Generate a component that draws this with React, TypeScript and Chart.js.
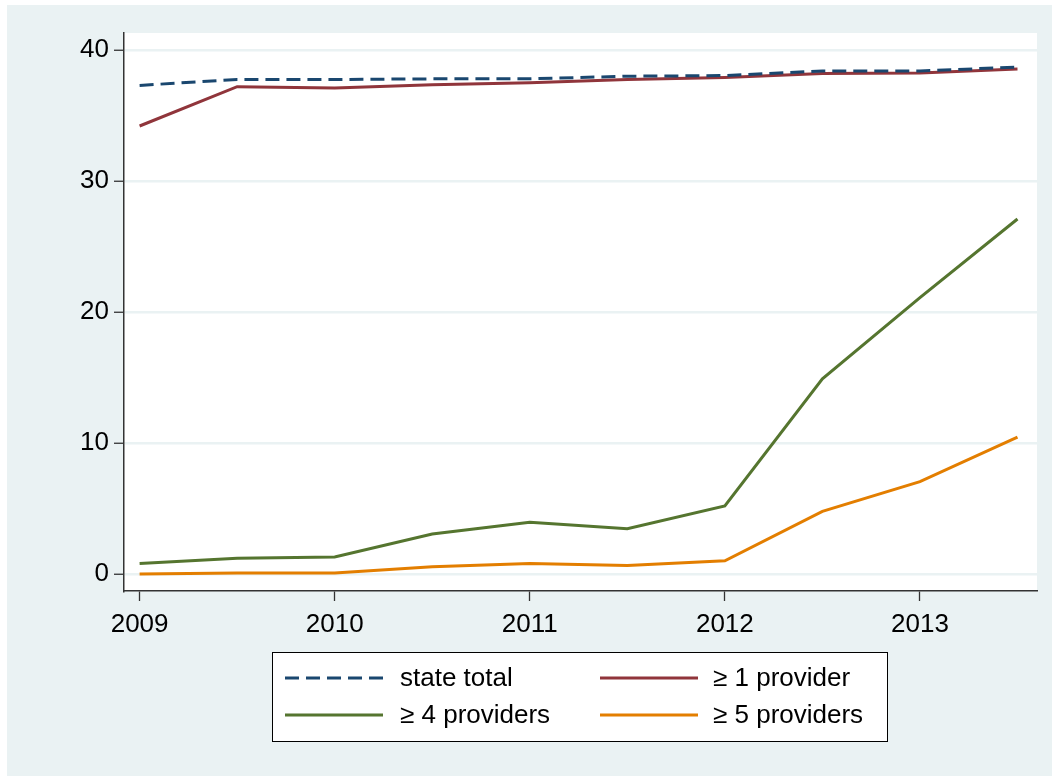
import React, { useEffect, useRef } from "react";
import { Chart, registerables } from "chart.js";

Chart.register(...registerables);

const periods = [2009, 2009.5, 2010, 2010.5, 2011, 2011.5, 2012, 2012.5, 2013, 2013.5];
const stateTotal = [37.3, 37.75, 37.75, 37.8, 37.8, 38.0, 38.05, 38.4, 38.4, 38.7];
const oneProvider = [34.2, 37.2, 37.1, 37.35, 37.5, 37.75, 37.9, 38.2, 38.25, 38.55];
const fourProviders = [0.8, 1.2, 1.3, 3.05, 3.95, 3.45, 5.2, 14.9, 21.1, 27.1];
const fiveProviders = [0.0, 0.08, 0.08, 0.55, 0.8, 0.65, 1.0, 4.78, 7.05, 10.45];
const xTicks = [2009, 2010, 2011, 2012, 2013];
const yTicks = [0, 10, 20, 30, 40];
const seriesLabels = ["state total", "\u2265 1 provider", "\u2265 4 providers", "\u2265 5 providers"];
const seriesColors = ["#1A476F", "#90353B", "#55752F", "#E37E00"];

const FONT = "'Liberation Sans', Arial, sans-serif";
const FONT_SIZE = 26;
const BG = "#EAF2F3";

const legendPlugin = {
  id: "boxLegend",
  afterDraw(chart: any) {
    const ctx = chart.ctx;
    ctx.save();
    const bx = 265, by = 647, bw = 615, bh = 89;
    ctx.fillStyle = "#FFFFFF";
    ctx.fillRect(bx, by, bw, bh);
    ctx.strokeStyle = "#000000";
    ctx.lineWidth = 1;
    ctx.strokeRect(bx + 0.5, by + 0.5, bw, bh);
    const cols = [
      { lx: 278, tx: 393 },
      { lx: 593, tx: 706 },
    ];
    const rows = [673, 710];
    chart.data.datasets.forEach((ds: any, i: number) => {
      const c = cols[i % 2];
      const y = rows[Math.floor(i / 2)];
      ctx.beginPath();
      ctx.strokeStyle = ds.borderColor;
      ctx.lineWidth = 3;
      ctx.setLineDash(ds.borderDash || []);
      ctx.moveTo(c.lx, y);
      ctx.lineTo(c.lx + 98, y);
      ctx.stroke();
      ctx.setLineDash([]);
      ctx.fillStyle = "#000000";
      ctx.font = `${FONT_SIZE}px ${FONT}`;
      ctx.textBaseline = "middle";
      ctx.textAlign = "left";
      ctx.fillText(ds.label, c.tx, y + 1);
    });
    ctx.restore();
  },
};

export default function App() {
  const ref = useRef<HTMLCanvasElement | null>(null);
  useEffect(() => {
    if (!ref.current) return;
    const mk = (vals: number[]) => periods.map((p, i) => ({ x: p, y: vals[i] }));
    const chart = new Chart(ref.current, {
      type: "line",
      data: {
        datasets: [stateTotal, oneProvider, fourProviders, fiveProviders].map((vals, i) => ({
          label: seriesLabels[i],
          data: mk(vals),
          borderColor: seriesColors[i],
          backgroundColor: seriesColors[i],
          borderWidth: 3,
          borderDash: i === 0 ? [14, 7] : [],
          pointRadius: 0,
          tension: 0,
          fill: false,
        })),
      },
      options: {
        animation: false,
        responsive: false,
        layout: { padding: { left: 0, top: 28, right: 15, bottom: 125 } },
        plugins: { legend: { display: false }, tooltip: { enabled: false } },
        scales: {
          x: {
            type: "linear",
            min: 2008.92,
            max: 2013.6,
            afterBuildTicks: (s: any) => {
              s.ticks = xTicks.map((v) => ({ value: v }));
            },
            afterFit: (s: any) => {
              s.height = 60;
            },
            grid: { drawOnChartArea: false, tickLength: 10, tickColor: "#333333", tickWidth: 1.3 },
            border: { display: true, color: "#333333", width: 1.5 },
            ticks: { color: "#000000", font: { family: FONT, size: FONT_SIZE }, padding: 8, maxRotation: 0, callback: (v: any) => String(v) },
          },
          y: {
            type: "linear",
            min: -1.3,
            max: 41.3,
            afterBuildTicks: (s: any) => {
              s.ticks = yTicks.map((v) => ({ value: v }));
            },
            afterFit: (s: any) => {
              s.width = 117;
            },
            grid: { color: BG, lineWidth: 2.5, tickLength: 10, tickColor: "#333333", tickWidth: 1.3 },
            border: { display: true, color: "#333333", width: 1.5 },
            ticks: { color: "#000000", font: { family: FONT, size: FONT_SIZE }, padding: 5, callback: (v: any) => String(v) },
          },
        },
      },
      plugins: [
        {
          id: "plotBg",
          beforeDraw(chart: any) {
            const { ctx, chartArea } = chart;
            ctx.save();
            ctx.fillStyle = "#FFFFFF";
            ctx.fillRect(chartArea.left, chartArea.top, chartArea.right - chartArea.left, chartArea.bottom - chartArea.top);
            ctx.restore();
          },
        },
        legendPlugin,
      ],
    } as any);
    return () => chart.destroy();
  }, []);
  return (
    <div style={{ position: "fixed", left: 7, top: 5, width: 1045, height: 771, background: BG }}>
      <canvas ref={ref} width={1045} height={771} style={{ display: "block", width: 1045, height: 771 }} />
    </div>
  );
}
